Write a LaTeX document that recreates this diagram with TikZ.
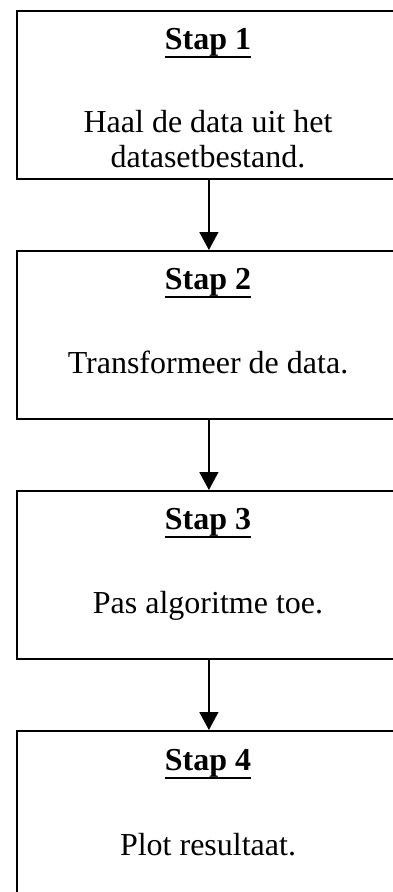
\documentclass[tikz,border=0pt]{standalone}
\usepackage{fontspec}
\setmainfont{Liberation Serif}
\usetikzlibrary{arrows.meta}
\begin{document}
\begin{tikzpicture}[x=1pt,y=-1pt,
  box/.style={draw, line width=1.8pt, minimum width=384pt, minimum height=168pt, inner sep=0pt, anchor=north west},
  title/.style={font=\fontsize{32}{36}\selectfont\bfseries, inner sep=0pt, anchor=base},
  body/.style={font=\fontsize{32}{36}\selectfont, inner sep=0pt, anchor=base},
  uline/.style={line width=2.6pt},
  link/.style={line width=1.3pt, -{Triangle[width=19pt,length=18pt]}}]
\useasboundingbox (0,0) rectangle (393,892);
\clip (0,0) rectangle (393,892);
% boxes
\node[box] (b1) at (16,10) {};
\node[box] (b2) at (16,250) {};
\node[box] (b3) at (16,490) {};
\node[box, minimum height=200pt] (b4) at (16,730) {};
% titles
\node[title] (t1) at (208,49) {Stap 1};
\node[title] (t2) at (208,289) {Stap 2};
\node[title] (t3) at (208,529) {Stap 3};
\node[title] (t4) at (208,770) {Stap 4};
\foreach \t in {t1,t2,t3,t4}{
  \draw[uline] ([yshift=-8pt]\t.base west) -- ([yshift=-8pt]\t.base east);
}
% bodies
\node[body] (s1a) at (208,132) {Haal de data uit het};
\node[body] (s1b) at (208,167) {datasetbestand.};
\node[body] (s2) at (208,373) {Transformeer de data.};
\node[body] (s3) at (208,613) {Pas algoritme toe.};
\node[body] (s4) at (208,855) {Plot resultaat.};
% connectors
\draw[link] (b1.south) -- (b2.north);
\draw[link] (b2.south) -- (b3.north);
\draw[link] (b3.south) -- ([yshift=0pt]b4.north);
\end{tikzpicture}
\end{document}
